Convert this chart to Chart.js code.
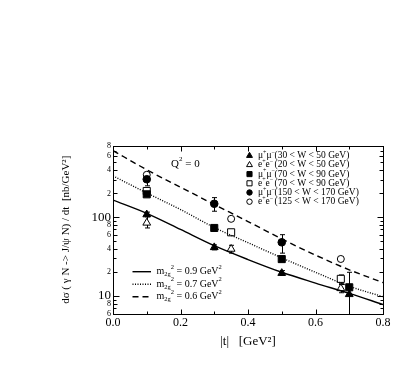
<!DOCTYPE html>
<html>
<head>
<meta charset="utf-8">
<script src="https://cdn.jsdelivr.net/npm/chart.js@4/dist/chart.umd.min.js"></script>
<style>
  html, body { margin: 0; padding: 0; background: #fff; }
</style>
</head>
<body>
<canvas id="graficoSeccionEficaz" width="409" height="382"></canvas>
<script>
// Curvas teóricas (|t| y dσ/dt)
const tCurva = [0, 0.1, 0.2, 0.3, 0.4, 0.5, 0.6, 0.7, 0.8];
const curvaM09 = [165, 112, 70, 43.5, 29, 20, 14.6, 10.8, 7.8];
const curvaM07 = [334, 203, 125, 74, 47.5, 30.5, 20, 13.3, 9.8];
const curvaM06 = [700, 400, 240, 145, 88, 53, 33, 21.5, 14.8];
const masasCurvas = ['0.9', '0.7', '0.6'];

// Datos experimentales
const tMu30 = [0.1, 0.3, 0.5, 0.7];
const yMu30 = [108, 41.4, 19.5, 10.5];
const loMu30 = [101, 38.5, 18.2, 1];
const hiMu30 = [116, 44.5, 21, 12];

const tEe20 = [0.1, 0.35, 0.675];
const yEe20 = [84.7, 39.5, 12.5];
const loEe20 = [73, 35, 11];
const hiEe20 = [103, 44, 14];

const tMu70 = [0.1, 0.3, 0.5, 0.7];
const yMu70 = [195, 73, 29.4, 12.9];
const loMu70 = [185, 70, 28, 1];
const hiMu70 = [205, 76, 31, 20];

const tEe70 = [0.1, 0.35, 0.675];
const yEe70 = [215, 64.3, 16.5];
const loEe70 = [202, 59, 14.5];
const hiEe70 = [230, 70, 18.5];

const tMu150 = [0.1, 0.3, 0.5];
const yMu150 = [303, 148, 48];
const loMu150 = [250, 119, 35];
const hiMu150 = [369, 177, 60];

const tEe125 = [0.1, 0.35, 0.675];
const yEe125 = [345, 95.3, 29.5];
const loEe125 = [330, 91, 28];
const hiEe125 = [360, 100, 31];

const particulas = ['μ', 'e', 'μ', 'e', 'μ', 'e'];
const rangosW = ['(30 < W < 50 GeV)', '(20 < W < 50 GeV)', '(70 < W < 90 GeV)',
                 '(70 < W < 90 GeV)', '(150 < W < 170 GeV)', '(125 < W < 170 GeV)'];

// Ticks de los ejes
const xTickValores = [0, 0.1, 0.2, 0.3, 0.4, 0.5, 0.6, 0.7, 0.8];
const xTickEtiquetas = ['0.0', '', '0.2', '', '0.4', '', '0.6', '', '0.8'];
const yTickValores = [6, 7, 8, 9, 10, 20, 30, 40, 50, 60, 70, 80, 90, 100, 200, 300, 400, 500, 600, 700, 800];
const yTickEtiquetas = ['6', '', '8', '', '10', '2', '', '4', '', '6', '', '8', '', '100', '2', '', '4', '', '6', '', '8'];

const FUENTE = '"Liberation Serif", "DejaVu Serif", serif';

const aPuntos = (xs, ys) => xs.map((x, i) => ({ x, y: ys[i] }));

const serieCurva = (ys, dash) => ({
    type: 'line',
    data: aPuntos(tCurva, ys),
    borderColor: '#000',
    borderWidth: 1.4,
    borderDash: dash,
    pointRadius: 0,
    cubicInterpolationMode: 'monotone',
    fill: false
});

const serieMarcas = (xs, ys, lo, hi, estilo, relleno, radio) => ({
    type: 'scatter',
    data: aPuntos(xs, ys),
    errLo: lo,
    errHi: hi,
    pointStyle: estilo,
    pointRadius: radio,
    pointBackgroundColor: relleno ? '#000' : '#fff',
    pointBorderColor: '#000',
    pointBorderWidth: 1
});

const seriesMarcas = [
    serieMarcas(tMu30, yMu30, loMu30, hiMu30, 'triangle', true, 4.5),
    serieMarcas(tEe20, yEe20, loEe20, hiEe20, 'triangle', false, 4.5),
    serieMarcas(tMu70, yMu70, loMu70, hiMu70, 'rect', true, 5),
    serieMarcas(tEe70, yEe70, loEe70, hiEe70, 'rect', false, 5),
    serieMarcas(tMu150, yMu150, loMu150, hiMu150, 'circle', true, 3.8),
    serieMarcas(tEe125, yEe125, loEe125, hiEe125, 'circle', false, 3.5)
];

// Barras de error
const barrasError = {
    id: 'barrasError',
    beforeDatasetsDraw(chart) {
        const { ctx, chartArea: a, scales: { x, y } } = chart;
        ctx.save();
        ctx.beginPath();
        ctx.rect(a.left, a.top, a.right - a.left, a.bottom - a.top);
        ctx.clip();
        ctx.strokeStyle = '#000';
        ctx.lineWidth = 1;
        ctx.beginPath();
        chart.data.datasets.forEach(ds => {
            if (!ds.errLo) return;
            ds.data.forEach((p, i) => {
                const px = Math.round(x.getPixelForValue(p.x)) + 0.5;
                const pLo = y.getPixelForValue(ds.errLo[i]);
                const pHi = y.getPixelForValue(ds.errHi[i]);
                ctx.moveTo(px, pLo); ctx.lineTo(px, pHi);
                ctx.moveTo(px - 2.5, pLo); ctx.lineTo(px + 2.5, pLo);
                ctx.moveTo(px - 2.5, pHi); ctx.lineTo(px + 2.5, pHi);
            });
        });
        ctx.stroke();
        ctx.restore();
    }
};

// Marco y ticks hacia adentro
const marcoEjes = {
    id: 'marcoEjes',
    afterDraw(chart) {
        const { ctx, chartArea: a, scales: { x, y } } = chart;
        const l = Math.round(a.left) + 0.5, r = Math.round(a.right) + 0.5;
        const t = Math.round(a.top) + 0.5, b = Math.round(a.bottom) + 0.5;
        ctx.save();
        ctx.strokeStyle = '#000';
        ctx.lineWidth = 1;
        ctx.strokeRect(l, t, r - l, b - t);
        ctx.beginPath();
        x.ticks.forEach(tk => {
            const px = Math.round(x.getPixelForValue(tk.value)) + 0.5;
            const largo = tk.label ? 5 : 3;
            ctx.moveTo(px, b); ctx.lineTo(px, b - largo);
            ctx.moveTo(px, t); ctx.lineTo(px, t + largo);
        });
        y.ticks.forEach(tk => {
            const py = Math.round(y.getPixelForValue(tk.value)) + 0.5;
            const largo = (tk.value === 10 || tk.value === 100) ? 6 : (tk.label ? 4 : 3);
            ctx.moveTo(l, py); ctx.lineTo(l + largo, py);
            ctx.moveTo(r, py); ctx.lineTo(r - largo, py);
        });
        ctx.stroke();
        ctx.restore();
    }
};

const dibujarMarca = (ctx, estilo, relleno, cx, cy, s) => {
    ctx.beginPath();
    if (estilo === 'triangle') {
        ctx.moveTo(cx, cy - s);
        ctx.lineTo(cx + s * 0.866, cy + s * 0.5);
        ctx.lineTo(cx - s * 0.866, cy + s * 0.5);
        ctx.closePath();
    } else if (estilo === 'rect') {
        ctx.rect(cx - s * 0.75, cy - s * 0.75, s * 1.5, s * 1.5);
    } else {
        ctx.arc(cx, cy, s * 0.8, 0, Math.PI * 2);
    }
    ctx.fillStyle = relleno ? '#000' : '#fff';
    ctx.fill();
    ctx.stroke();
};

// Escribe trozos de texto [texto, tamaño, desplazamiento vertical] uno tras otro
const escribirTrozos = (ctx, trozos, x0, y0) => {
    let px = x0;
    trozos.forEach(([txt, tam, dy]) => {
        ctx.font = `${tam}px ${FUENTE}`;
        ctx.fillText(txt, px, y0 + dy);
        px += ctx.measureText(txt).width;
    });
    return px;
};

// Leyendas y texto Q² = 0
const leyendas = {
    id: 'leyendas',
    afterDraw(chart) {
        const { ctx } = chart;
        ctx.save();
        ctx.fillStyle = '#000';
        ctx.strokeStyle = '#000';
        ctx.lineWidth = 1;
        ctx.textBaseline = 'middle';

        // Leyenda de marcadores
        seriesMarcas.forEach((ds, i) => {
            const yy = 155.7 + i * 9.2;
            dibujarMarca(ctx, ds.pointStyle, ds.pointBackgroundColor === '#000', 249.5, yy, 3.4);
            ctx.fillStyle = '#000';
            const p = particulas[i];
            escribirTrozos(ctx, [[p, 9.5, 0], ['+', 6, -3.5], [p, 9.5, 0], ['−', 6, -3.5]], 258, yy);
            ctx.font = `9.5px ${FUENTE}`;
            ctx.fillText(rangosW[i], 274.5, yy);
        });

        // Leyenda de curvas
        const guiones = [[], [1, 1.5], [6, 4]];
        masasCurvas.forEach((m, i) => {
            const yy = 271.7 + i * 12.5;
            ctx.setLineDash(guiones[i]);
            ctx.lineWidth = 1.4;
            ctx.beginPath();
            ctx.moveTo(132.5, yy); ctx.lineTo(151, yy);
            ctx.stroke();
            ctx.setLineDash([]);
            escribirTrozos(ctx, [
                ['m', 10, 0], ['2g', 6.5, 3], ['2', 6.5, -4.5],
                [` = ${m} GeV`, 10, 0], ['2', 6.5, -4.5]
            ], 156.5, yy);
        });

        // Q² = 0
        escribirTrozos(ctx, [['Q', 11, 0], ['2', 7, -5], [' = 0', 11, 0]], 171, 164);
        ctx.restore();
    }
};

const config = {
    data: {
        datasets: [
            serieCurva(curvaM09, []),
            serieCurva(curvaM07, [1, 1.5]),
            serieCurva(curvaM06, [6, 4]),
            ...seriesMarcas
        ]
    },
    options: {
        responsive: false,
        animation: false,
        devicePixelRatio: 1,
        layout: { padding: { top: 146, right: 26, bottom: 32.5, left: 0 } },
        plugins: {
            legend: { display: false },
            tooltip: { enabled: false }
        },
        scales: {
            x: {
                type: 'linear',
                min: 0,
                max: 0.8,
                grid: { display: false, drawTicks: false },
                border: { display: false },
                afterBuildTicks: scale => {
                    scale.ticks = xTickValores.map(v => ({ value: v }));
                },
                afterFit: scale => { scale.height = 36; },
                ticks: {
                    autoSkip: false,
                    maxRotation: 0,
                    padding: 2,
                    color: '#000',
                    font: { family: FUENTE, size: 12 },
                    callback: (v, i) => xTickEtiquetas[i]
                },
                title: {
                    display: true,
                    text: '|t|   [GeV²]',
                    color: '#000',
                    padding: { top: 0, bottom: 0 },
                    font: { family: FUENTE, size: 13 }
                }
            },
            y: {
                type: 'logarithmic',
                min: 6,
                max: 800,
                grid: { display: false, drawTicks: false },
                border: { display: false },
                afterBuildTicks: scale => {
                    scale.ticks = yTickValores.map(v => ({ value: v }));
                },
                afterFit: scale => { scale.width = 113; },
                ticks: {
                    autoSkip: false,
                    padding: 2,
                    color: '#000',
                    font: ctx => ({
                        family: FUENTE,
                        size: (ctx.tick && (ctx.tick.value === 10 || ctx.tick.value === 100)) ? 13 : 8
                    }),
                    callback: (v, i) => yTickEtiquetas[i]
                },
                title: {
                    display: true,
                    text: 'dσ ( γ N -> J/ψ N) / dt  [nb/GeV²]',
                    color: '#000',
                    padding: { top: 60, bottom: 0 },
                    font: { family: FUENTE, size: 11 }
                }
            }
        }
    },
    plugins: [barrasError, marcoEjes, leyendas]
};

new Chart(document.getElementById('graficoSeccionEficaz'), config);
</script>
</body>
</html>
